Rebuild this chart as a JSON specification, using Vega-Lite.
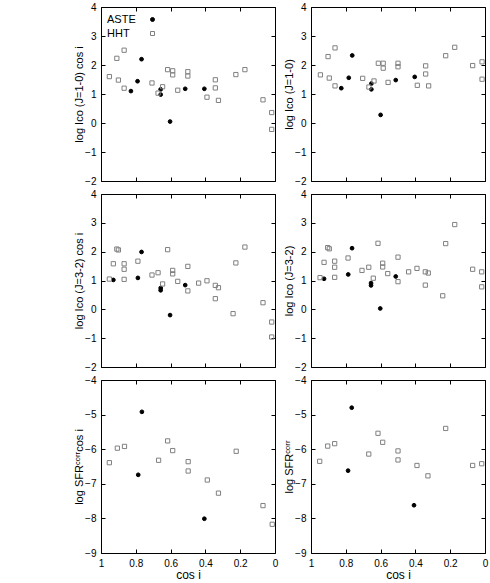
{
  "$schema": "https://vega.github.io/schema/vega-lite/v6.json",
  "padding": {"left": 73, "top": 1, "right": 2, "bottom": 2},
  "background": "white",
  "datasets": {
    "A": [
      {"s":"ASTE","x":0.828,"y":1.10},{"s":"ASTE","x":0.79,"y":1.44},{"s":"ASTE","x":0.767,"y":2.20},{"s":"ASTE","x":0.657,"y":1.16},{"s":"ASTE","x":0.657,"y":0.98},{"s":"ASTE","x":0.603,"y":0.05},{"s":"ASTE","x":0.516,"y":1.18},{"s":"ASTE","x":0.406,"y":1.18},
      {"s":"HHT","x":0.952,"y":1.60},{"s":"HHT","x":0.909,"y":2.23},{"s":"HHT","x":0.90,"y":1.48},{"s":"HHT","x":0.867,"y":2.51},{"s":"HHT","x":0.867,"y":1.20},{"s":"HHT","x":0.707,"y":1.38},{"s":"HHT","x":0.672,"y":1.03},{"s":"HHT","x":0.646,"y":1.25},{"s":"HHT","x":0.617,"y":1.84},{"s":"HHT","x":0.588,"y":1.80},{"s":"HHT","x":0.588,"y":1.66},{"s":"HHT","x":0.559,"y":1.13},{"s":"HHT","x":0.501,"y":1.77},{"s":"HHT","x":0.501,"y":1.62},{"s":"HHT","x":0.391,"y":0.89},{"s":"HHT","x":0.343,"y":1.49},{"s":"HHT","x":0.343,"y":1.21},{"s":"HHT","x":0.325,"y":0.78},{"s":"HHT","x":0.225,"y":1.67},{"s":"HHT","x":0.173,"y":1.84},{"s":"HHT","x":0.069,"y":0.80},{"s":"HHT","x":0.019,"y":0.36},{"s":"HHT","x":0.019,"y":-0.22}
    ],
    "B": [
      {"s":"ASTE","x":0.826,"y":1.20},{"s":"ASTE","x":0.783,"y":1.56},{"s":"ASTE","x":0.763,"y":2.33},{"s":"ASTE","x":0.653,"y":1.36},{"s":"ASTE","x":0.653,"y":1.16},{"s":"ASTE","x":0.60,"y":0.28},{"s":"ASTE","x":0.513,"y":1.48},{"s":"ASTE","x":0.404,"y":1.59},
      {"s":"HHT","x":0.946,"y":1.66},{"s":"HHT","x":0.902,"y":2.29},{"s":"HHT","x":0.895,"y":1.55},{"s":"HHT","x":0.862,"y":2.59},{"s":"HHT","x":0.862,"y":1.28},{"s":"HHT","x":0.703,"y":1.54},{"s":"HHT","x":0.667,"y":1.24},{"s":"HHT","x":0.638,"y":1.45},{"s":"HHT","x":0.613,"y":2.06},{"s":"HHT","x":0.585,"y":2.06},{"s":"HHT","x":0.585,"y":1.89},{"s":"HHT","x":0.557,"y":1.40},{"s":"HHT","x":0.50,"y":2.06},{"s":"HHT","x":0.50,"y":1.94},{"s":"HHT","x":0.389,"y":1.30},{"s":"HHT","x":0.341,"y":1.97},{"s":"HHT","x":0.341,"y":1.69},{"s":"HHT","x":0.324,"y":1.28},{"s":"HHT","x":0.226,"y":2.32},{"s":"HHT","x":0.174,"y":2.61},{"s":"HHT","x":0.071,"y":1.98},{"s":"HHT","x":0.017,"y":2.11},{"s":"HHT","x":0.017,"y":1.51}
    ],
    "C": [
      {"s":"ASTE","x":0.929,"y":1.02},{"s":"ASTE","x":0.788,"y":1.09},{"s":"ASTE","x":0.767,"y":1.99},{"s":"ASTE","x":0.657,"y":0.74},{"s":"ASTE","x":0.657,"y":0.66},{"s":"ASTE","x":0.603,"y":-0.20},{"s":"ASTE","x":0.516,"y":0.84},
      {"s":"HHT","x":0.952,"y":1.05},{"s":"HHT","x":0.929,"y":1.58},{"s":"HHT","x":0.909,"y":2.09},{"s":"HHT","x":0.90,"y":2.06},{"s":"HHT","x":0.867,"y":1.58},{"s":"HHT","x":0.867,"y":1.39},{"s":"HHT","x":0.867,"y":1.04},{"s":"HHT","x":0.788,"y":1.67},{"s":"HHT","x":0.707,"y":1.19},{"s":"HHT","x":0.672,"y":1.27},{"s":"HHT","x":0.646,"y":0.88},{"s":"HHT","x":0.617,"y":2.07},{"s":"HHT","x":0.588,"y":1.35},{"s":"HHT","x":0.588,"y":1.23},{"s":"HHT","x":0.559,"y":0.97},{"s":"HHT","x":0.501,"y":1.49},{"s":"HHT","x":0.501,"y":0.64},{"s":"HHT","x":0.439,"y":0.91},{"s":"HHT","x":0.391,"y":0.99},{"s":"HHT","x":0.343,"y":0.83},{"s":"HHT","x":0.343,"y":0.37},{"s":"HHT","x":0.325,"y":0.75},{"s":"HHT","x":0.241,"y":-0.15},{"s":"HHT","x":0.225,"y":1.61},{"s":"HHT","x":0.173,"y":2.16},{"s":"HHT","x":0.069,"y":0.23},{"s":"HHT","x":0.019,"y":-0.44},{"s":"HHT","x":0.019,"y":-0.96}
    ],
    "D": [
      {"s":"ASTE","x":0.925,"y":1.06},{"s":"ASTE","x":0.786,"y":1.21},{"s":"ASTE","x":0.764,"y":2.12},{"s":"ASTE","x":0.655,"y":0.91},{"s":"ASTE","x":0.655,"y":0.83},{"s":"ASTE","x":0.602,"y":0.03},{"s":"ASTE","x":0.513,"y":1.14},
      {"s":"HHT","x":0.948,"y":1.10},{"s":"HHT","x":0.925,"y":1.63},{"s":"HHT","x":0.904,"y":2.14},{"s":"HHT","x":0.895,"y":2.10},{"s":"HHT","x":0.864,"y":1.67},{"s":"HHT","x":0.864,"y":1.46},{"s":"HHT","x":0.864,"y":1.11},{"s":"HHT","x":0.787,"y":1.78},{"s":"HHT","x":0.707,"y":1.35},{"s":"HHT","x":0.668,"y":1.46},{"s":"HHT","x":0.642,"y":1.08},{"s":"HHT","x":0.615,"y":2.29},{"s":"HHT","x":0.588,"y":1.60},{"s":"HHT","x":0.588,"y":1.47},{"s":"HHT","x":0.559,"y":1.24},{"s":"HHT","x":0.50,"y":1.81},{"s":"HHT","x":0.50,"y":0.96},{"s":"HHT","x":0.439,"y":1.30},{"s":"HHT","x":0.391,"y":1.42},{"s":"HHT","x":0.343,"y":1.30},{"s":"HHT","x":0.343,"y":0.84},{"s":"HHT","x":0.326,"y":1.26},{"s":"HHT","x":0.243,"y":0.47},{"s":"HHT","x":0.226,"y":2.28},{"s":"HHT","x":0.174,"y":2.94},{"s":"HHT","x":0.071,"y":1.39},{"s":"HHT","x":0.019,"y":1.30},{"s":"HHT","x":0.019,"y":0.78}
    ],
    "E": [
      {"s":"ASTE","x":0.765,"y":-4.92},{"s":"ASTE","x":0.786,"y":-6.74},{"s":"ASTE","x":0.406,"y":-8.01},
      {"s":"HHT","x":0.952,"y":-6.39},{"s":"HHT","x":0.906,"y":-5.97},{"s":"HHT","x":0.865,"y":-5.92},{"s":"HHT","x":0.669,"y":-6.32},{"s":"HHT","x":0.617,"y":-5.76},{"s":"HHT","x":0.588,"y":-6.04},{"s":"HHT","x":0.499,"y":-6.36},{"s":"HHT","x":0.499,"y":-6.63},{"s":"HHT","x":0.389,"y":-6.89},{"s":"HHT","x":0.325,"y":-7.27},{"s":"HHT","x":0.223,"y":-6.06},{"s":"HHT","x":0.069,"y":-7.63},{"s":"HHT","x":0.016,"y":-8.17}
    ],
    "F": [
      {"s":"ASTE","x":0.766,"y":-4.80},{"s":"ASTE","x":0.787,"y":-6.62},{"s":"ASTE","x":0.408,"y":-7.62},
      {"s":"HHT","x":0.95,"y":-6.35},{"s":"HHT","x":0.904,"y":-5.91},{"s":"HHT","x":0.864,"y":-5.84},{"s":"HHT","x":0.668,"y":-6.14},{"s":"HHT","x":0.615,"y":-5.54},{"s":"HHT","x":0.588,"y":-5.80},{"s":"HHT","x":0.50,"y":-6.05},{"s":"HHT","x":0.50,"y":-6.31},{"s":"HHT","x":0.391,"y":-6.47},{"s":"HHT","x":0.328,"y":-6.77},{"s":"HHT","x":0.226,"y":-5.40},{"s":"HHT","x":0.071,"y":-6.47},{"s":"HHT","x":0.019,"y":-6.42}
    ]
  },
  "columns": 2,
  "spacing": {"row": 13, "column": 36},
  "bounds": "flush",
  "resolve": {"scale": {"shape": "independent", "fill": "independent", "stroke": "independent"}},
  "concat": [
    {
      "width": 174, "height": 174,
      "data": {"name": "A"},
      "layer": [
        {
          "transform": [{"filter": "datum.s === 'ASTE'"}],
          "mark": {"type": "point", "opacity": 1, "size": 14, "strokeWidth": 1},
          "encoding": {
            "x": {"field": "x", "type": "quantitative", "scale": {"domain": [0, 1], "reverse": true, "nice": false, "zero": false}, "axis": {"orient": "bottom", "values": [0, 0.2, 0.4, 0.6, 0.8, 1], "labels": false, "title": null}},
            "y": {"field": "y", "type": "quantitative", "scale": {"domain": [-2, 4], "nice": false, "zero": false}, "axis": {"orient": "left", "values": [-2, -1, 0, 1, 2, 3, 4], "title": "log Iᴄᴏ (J=1-0) cos i"}},
            "shape": {"field": "s", "type": "nominal", "scale": {"domain": ["ASTE", "HHT"], "range": ["circle", "square"]}, "legend": {"title": null, "orient": "none", "legendX": 46, "legendY": 7, "labelFontSize": 11, "labelAlign": "left", "labelOffset": -51, "rowPadding": 2, "symbolSize": 16, "symbolStrokeWidth": 1, "labelColor": "black", "padding": 0}},
            "fill": {"field": "s", "type": "nominal", "scale": {"domain": ["ASTE", "HHT"], "range": ["black", "transparent"]}, "legend": {"title": null, "orient": "none", "legendX": 46, "legendY": 7, "labelFontSize": 11, "labelAlign": "left", "labelOffset": -51, "rowPadding": 2, "symbolSize": 16, "symbolStrokeWidth": 1, "labelColor": "black", "padding": 0}},
            "stroke": {"field": "s", "type": "nominal", "scale": {"domain": ["ASTE", "HHT"], "range": ["black", "#808080"]}, "legend": {"title": null, "orient": "none", "legendX": 46, "legendY": 7, "labelFontSize": 11, "labelAlign": "left", "labelOffset": -51, "rowPadding": 2, "symbolSize": 16, "symbolStrokeWidth": 1, "labelColor": "black", "padding": 0}}
          }
        },
        {
          "transform": [{"filter": "datum.s === 'HHT'"}],
          "mark": {"type": "point", "opacity": 1, "size": 18, "strokeWidth": 1},
          "encoding": {
            "x": {"field": "x", "type": "quantitative", "scale": {"domain": [0, 1], "reverse": true, "nice": false, "zero": false}, "axis": {"orient": "top", "values": [0, 0.2, 0.4, 0.6, 0.8, 1], "labels": false, "title": null}},
            "y": {"field": "y", "type": "quantitative", "scale": {"domain": [-2, 4], "nice": false, "zero": false}, "axis": {"orient": "right", "values": [-2, -1, 0, 1, 2, 3, 4], "labels": false, "title": null}},
            "shape": {"field": "s", "type": "nominal", "scale": {"domain": ["ASTE", "HHT"], "range": ["circle", "square"]}, "legend": {"title": null, "orient": "none", "legendX": 46, "legendY": 7, "labelFontSize": 11, "labelAlign": "left", "labelOffset": -51, "rowPadding": 2, "symbolSize": 16, "symbolStrokeWidth": 1, "labelColor": "black", "padding": 0}},
            "fill": {"field": "s", "type": "nominal", "scale": {"domain": ["ASTE", "HHT"], "range": ["black", "transparent"]}, "legend": {"title": null, "orient": "none", "legendX": 46, "legendY": 7, "labelFontSize": 11, "labelAlign": "left", "labelOffset": -51, "rowPadding": 2, "symbolSize": 16, "symbolStrokeWidth": 1, "labelColor": "black", "padding": 0}},
            "stroke": {"field": "s", "type": "nominal", "scale": {"domain": ["ASTE", "HHT"], "range": ["black", "#808080"]}, "legend": {"title": null, "orient": "none", "legendX": 46, "legendY": 7, "labelFontSize": 11, "labelAlign": "left", "labelOffset": -51, "rowPadding": 2, "symbolSize": 16, "symbolStrokeWidth": 1, "labelColor": "black", "padding": 0}}
          }
        }
      ],
      "resolve": {"axis": {"x": "independent", "y": "independent"}}
    },
    {
      "width": 174, "height": 174,
      "data": {"name": "B"},
      "layer": [
        {
          "transform": [{"filter": "datum.s === 'ASTE'"}],
          "mark": {"type": "point", "shape": "circle", "filled": true, "fill": "black", "stroke": "black", "opacity": 1, "size": 14, "strokeWidth": 1},
          "encoding": {
            "x": {"field": "x", "type": "quantitative", "scale": {"domain": [0, 1], "reverse": true, "nice": false, "zero": false}, "axis": {"orient": "bottom", "values": [0, 0.2, 0.4, 0.6, 0.8, 1], "labels": false, "title": null}},
            "y": {"field": "y", "type": "quantitative", "scale": {"domain": [-2, 4], "nice": false, "zero": false}, "axis": {"orient": "left", "values": [-2, -1, 0, 1, 2, 3, 4], "title": "log Iᴄᴏ (J=1-0)"}}
          }
        },
        {
          "transform": [{"filter": "datum.s === 'HHT'"}],
          "mark": {"type": "point", "shape": "square", "filled": false, "fill": "transparent", "stroke": "#808080", "opacity": 1, "size": 18, "strokeWidth": 1},
          "encoding": {
            "x": {"field": "x", "type": "quantitative", "scale": {"domain": [0, 1], "reverse": true, "nice": false, "zero": false}, "axis": {"orient": "top", "values": [0, 0.2, 0.4, 0.6, 0.8, 1], "labels": false, "title": null}},
            "y": {"field": "y", "type": "quantitative", "scale": {"domain": [-2, 4], "nice": false, "zero": false}, "axis": {"orient": "right", "values": [-2, -1, 0, 1, 2, 3, 4], "labels": false, "title": null}}
          }
        }
      ],
      "resolve": {"axis": {"x": "independent", "y": "independent"}}
    },
    {
      "width": 174, "height": 173,
      "data": {"name": "C"},
      "layer": [
        {
          "transform": [{"filter": "datum.s === 'ASTE'"}],
          "mark": {"type": "point", "shape": "circle", "filled": true, "fill": "black", "stroke": "black", "opacity": 1, "size": 14, "strokeWidth": 1},
          "encoding": {
            "x": {"field": "x", "type": "quantitative", "scale": {"domain": [0, 1], "reverse": true, "nice": false, "zero": false}, "axis": {"orient": "bottom", "values": [0, 0.2, 0.4, 0.6, 0.8, 1], "labels": false, "title": null}},
            "y": {"field": "y", "type": "quantitative", "scale": {"domain": [-2, 4], "nice": false, "zero": false}, "axis": {"orient": "left", "values": [-2, -1, 0, 1, 2, 3, 4], "title": "log Iᴄᴏ (J=3-2) cos i"}}
          }
        },
        {
          "transform": [{"filter": "datum.s === 'HHT'"}],
          "mark": {"type": "point", "shape": "square", "filled": false, "fill": "transparent", "stroke": "#808080", "opacity": 1, "size": 18, "strokeWidth": 1},
          "encoding": {
            "x": {"field": "x", "type": "quantitative", "scale": {"domain": [0, 1], "reverse": true, "nice": false, "zero": false}, "axis": {"orient": "top", "values": [0, 0.2, 0.4, 0.6, 0.8, 1], "labels": false, "title": null}},
            "y": {"field": "y", "type": "quantitative", "scale": {"domain": [-2, 4], "nice": false, "zero": false}, "axis": {"orient": "right", "values": [-2, -1, 0, 1, 2, 3, 4], "labels": false, "title": null}}
          }
        }
      ],
      "resolve": {"axis": {"x": "independent", "y": "independent"}}
    },
    {
      "width": 174, "height": 173,
      "data": {"name": "D"},
      "layer": [
        {
          "transform": [{"filter": "datum.s === 'ASTE'"}],
          "mark": {"type": "point", "shape": "circle", "filled": true, "fill": "black", "stroke": "black", "opacity": 1, "size": 14, "strokeWidth": 1},
          "encoding": {
            "x": {"field": "x", "type": "quantitative", "scale": {"domain": [0, 1], "reverse": true, "nice": false, "zero": false}, "axis": {"orient": "bottom", "values": [0, 0.2, 0.4, 0.6, 0.8, 1], "labels": false, "title": null}},
            "y": {"field": "y", "type": "quantitative", "scale": {"domain": [-2, 4], "nice": false, "zero": false}, "axis": {"orient": "left", "values": [-2, -1, 0, 1, 2, 3, 4], "title": "log Iᴄᴏ (J=3-2)"}}
          }
        },
        {
          "transform": [{"filter": "datum.s === 'HHT'"}],
          "mark": {"type": "point", "shape": "square", "filled": false, "fill": "transparent", "stroke": "#808080", "opacity": 1, "size": 18, "strokeWidth": 1},
          "encoding": {
            "x": {"field": "x", "type": "quantitative", "scale": {"domain": [0, 1], "reverse": true, "nice": false, "zero": false}, "axis": {"orient": "top", "values": [0, 0.2, 0.4, 0.6, 0.8, 1], "labels": false, "title": null}},
            "y": {"field": "y", "type": "quantitative", "scale": {"domain": [-2, 4], "nice": false, "zero": false}, "axis": {"orient": "right", "values": [-2, -1, 0, 1, 2, 3, 4], "labels": false, "title": null}}
          }
        }
      ],
      "resolve": {"axis": {"x": "independent", "y": "independent"}}
    },
    {
      "width": 174, "height": 173,
      "data": {"name": "E"},
      "layer": [
        {
          "transform": [{"filter": "datum.s === 'ASTE'"}],
          "mark": {"type": "point", "shape": "circle", "filled": true, "fill": "black", "stroke": "black", "opacity": 1, "size": 14, "strokeWidth": 1},
          "encoding": {
            "x": {"field": "x", "type": "quantitative", "scale": {"domain": [0, 1], "reverse": true, "nice": false, "zero": false}, "axis": {"orient": "bottom", "values": [0, 0.2, 0.4, 0.6, 0.8, 1], "format": "~g", "title": "cos i"}},
            "y": {"field": "y", "type": "quantitative", "scale": {"domain": [-9, -4], "nice": false, "zero": false}, "axis": {"orient": "left", "values": [-9, -8, -7, -6, -5, -4], "title": "log SFRᶜᵒʳʳcos i"}}
          }
        },
        {
          "transform": [{"filter": "datum.s === 'HHT'"}],
          "mark": {"type": "point", "shape": "square", "filled": false, "fill": "transparent", "stroke": "#808080", "opacity": 1, "size": 18, "strokeWidth": 1},
          "encoding": {
            "x": {"field": "x", "type": "quantitative", "scale": {"domain": [0, 1], "reverse": true, "nice": false, "zero": false}, "axis": {"orient": "top", "values": [0, 0.2, 0.4, 0.6, 0.8, 1], "labels": false, "title": null}},
            "y": {"field": "y", "type": "quantitative", "scale": {"domain": [-9, -4], "nice": false, "zero": false}, "axis": {"orient": "right", "values": [-9, -8, -7, -6, -5, -4], "labels": false, "title": null}}
          }
        }
      ],
      "resolve": {"axis": {"x": "independent", "y": "independent"}}
    },
    {
      "width": 174, "height": 173,
      "data": {"name": "F"},
      "layer": [
        {
          "transform": [{"filter": "datum.s === 'ASTE'"}],
          "mark": {"type": "point", "shape": "circle", "filled": true, "fill": "black", "stroke": "black", "opacity": 1, "size": 14, "strokeWidth": 1},
          "encoding": {
            "x": {"field": "x", "type": "quantitative", "scale": {"domain": [0, 1], "reverse": true, "nice": false, "zero": false}, "axis": {"orient": "bottom", "values": [0, 0.2, 0.4, 0.6, 0.8, 1], "format": "~g", "title": "cos i"}},
            "y": {"field": "y", "type": "quantitative", "scale": {"domain": [-9, -4], "nice": false, "zero": false}, "axis": {"orient": "left", "values": [-9, -8, -7, -6, -5, -4], "title": "log SFRᶜᵒʳʳ"}}
          }
        },
        {
          "transform": [{"filter": "datum.s === 'HHT'"}],
          "mark": {"type": "point", "shape": "square", "filled": false, "fill": "transparent", "stroke": "#808080", "opacity": 1, "size": 18, "strokeWidth": 1},
          "encoding": {
            "x": {"field": "x", "type": "quantitative", "scale": {"domain": [0, 1], "reverse": true, "nice": false, "zero": false}, "axis": {"orient": "top", "values": [0, 0.2, 0.4, 0.6, 0.8, 1], "labels": false, "title": null}},
            "y": {"field": "y", "type": "quantitative", "scale": {"domain": [-9, -4], "nice": false, "zero": false}, "axis": {"orient": "right", "values": [-9, -8, -7, -6, -5, -4], "labels": false, "title": null}}
          }
        }
      ],
      "resolve": {"axis": {"x": "independent", "y": "independent"}}
    }
  ],
  "config": {
    "font": "Liberation Sans",
    "view": {"stroke": "black", "strokeWidth": 1},
    "axis": {
      "grid": false,
      "domain": false,
      "ticks": true,
      "tickSize": -4,
      "tickColor": "black",
      "tickWidth": 1,
      "labelPadding": 9,
      "labelFontSize": 10,
      "labelColor": "black",
      "labelFlush": false,
      "labelOverlap": false,
      "labelBound": false,
      "titleFontSize": 11,
      "titleFontWeight": "normal",
      "titleColor": "black",
      "titlePadding": 0
    },
    "axisX": {"titleFontSize": 12, "titlePadding": 1}
  }
}
